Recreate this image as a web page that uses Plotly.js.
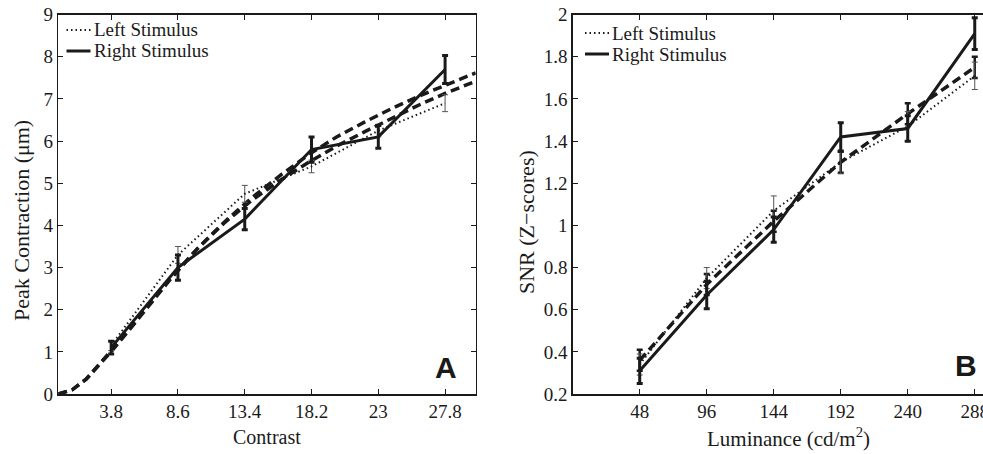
<!DOCTYPE html>
<html>
<head>
<meta charset="utf-8">
<script src="https://cdn.plot.ly/plotly-3.0.1.min.js"></script>
<style>
html,body{margin:0;padding:0;width:983px;height:454px;overflow:hidden;background:#fff;}
#chart{width:992px;height:454px;}
</style>
</head>
<body>
<div id="chart"></div>
<script>
// ---- Panel A data ----
const contrast = [3.8, 8.6, 13.4, 18.2, 23, 27.8];
const contrastTickText = ["3.8", "8.6", "13.4", "18.2", "23", "27.8"];
const contrastLeft = [1.15, 3.3, 4.75, 5.4, 6.25, 6.9];
const contrastLeftErr = [0.12, 0.2, 0.2, 0.15, 0.15, 0.2];
const contrastRight = [1.1, 3.0, 4.15, 5.8, 6.1, 7.7];
const contrastRightErr = [0.15, 0.3, 0.25, 0.3, 0.27, 0.33];
const fitX = [0, 1, 2, 3, 4, 5, 6, 8, 10, 12, 14, 16, 18, 20, 22, 24, 26, 28, 30];
const fitRightY = [0, 0.1, 0.35, 0.7, 1.08, 1.48, 1.88, 2.7, 3.45, 4.1, 4.68, 5.2, 5.68, 6.1, 6.45, 6.78, 7.08, 7.36, 7.62];
const fitLeftY  = [0, 0.1, 0.35, 0.72, 1.1, 1.5, 1.9, 2.72, 3.45, 4.08, 4.62, 5.08, 5.5, 5.88, 6.22, 6.55, 6.87, 7.16, 7.42];

// ---- Panel B data ----
const luminance = [48, 96, 144, 192, 240, 288];
const luminanceTickText = ["48", "96", "144", "192", "240", "288"];
const lumLeft = [0.34, 0.75, 1.07, 1.30, 1.47, 1.71];
const lumLeftErr = [0.05, 0.05, 0.07, 0.055, 0.07, 0.065];
const lumRight = [0.31, 0.67, 0.98, 1.42, 1.46, 1.91];
const lumRightErr = [0.06, 0.065, 0.06, 0.067, 0.06, 0.075];
const lumDashed = [0.36, 0.72, 1.02, 1.30, 1.53, 1.75];
const lumDashedErr = [0.05, 0.05, 0.05, 0.05, 0.05, 0.05];

const seriesNames = ["Left Stimulus", "Right Stimulus"];
const axisTitles = {
  ax: "Contrast", ay: "Peak Contraction (μm)",
  bx: "Luminance (cd/m<sup>2</sup>)", by: "SNR (Z−scores)"
};

const ink = "#1a1a1a";
const serif = "Liberation Serif, Times New Roman, serif";
const sans = "Liberation Sans, Arial, sans-serif";

const W = 992, H = 454;
const px = v => v / W;
const py = v => (H - v) / H;

const dotted = {color: ink, width: 2, dash: "1.5px,3px"};
const solid = {color: ink, width: 3};
const dashed = {color: ink, width: 3.5, dash: "9px,5px"};

const traces = [
  // Panel A
  {x: fitX, y: fitLeftY, xaxis: "x", yaxis: "y", mode: "lines", line: dashed},
  {x: fitX, y: fitRightY, xaxis: "x", yaxis: "y", mode: "lines", line: dashed},
  {x: contrast, y: contrastLeft, xaxis: "x", yaxis: "y", mode: "lines", name: seriesNames[0], line: dotted,
   error_y: {type: "data", array: contrastLeftErr, visible: true, color: "#555", thickness: 1, width: 3}},
  {x: contrast, y: contrastRight, xaxis: "x", yaxis: "y", mode: "lines", name: seriesNames[1], line: solid,
   error_y: {type: "data", array: contrastRightErr, visible: true, color: ink, thickness: 3, width: 3}},
  // Panel B
  {x: luminance, y: lumDashed, xaxis: "x2", yaxis: "y2", mode: "lines", line: dashed,
   error_y: {type: "data", array: lumDashedErr, visible: true, color: ink, thickness: 2.5, width: 3}},
  {x: luminance, y: lumLeft, xaxis: "x2", yaxis: "y2", mode: "lines", name: seriesNames[0], line: dotted,
   error_y: {type: "data", array: lumLeftErr, visible: true, color: "#555", thickness: 1, width: 3}},
  {x: luminance, y: lumRight, xaxis: "x2", yaxis: "y2", mode: "lines", name: seriesNames[1], line: solid,
   error_y: {type: "data", array: lumRightErr, visible: true, color: ink, thickness: 3, width: 3}}
];

const axisCommon = {
  showgrid: false, zeroline: false, showline: true, linecolor: ink, linewidth: 1.5,
  mirror: "ticks", ticks: "inside", ticklen: 5, tickwidth: 1, tickcolor: ink,
  tickfont: {family: serif, size: 19, color: ink}
};

function label(text, x, y, size, angle) {
  return {text: text, xref: "paper", yref: "paper", x: px(x), y: py(y),
    xanchor: "center", yanchor: "middle", showarrow: false, textangle: angle || 0,
    font: {family: serif, size: size, color: ink}};
}

// manual legend (text + sample lines) in paper coordinates
function legendItems(x0, rows) {
  const ann = [], shp = [];
  rows.forEach((yy, i) => {
    shp.push({type: "line", xref: "paper", yref: "paper",
      x0: px(x0), x1: px(x0 + 24), y0: py(yy), y1: py(yy),
      line: {color: ink, width: i === 0 ? 2 : 3, dash: i === 0 ? "1.5px,3px" : "solid"}});
    ann.push({text: seriesNames[i], xref: "paper", yref: "paper", x: px(x0 + 25), y: py(yy),
      xanchor: "left", yanchor: "middle", showarrow: false,
      font: {family: serif, size: 19, color: ink}});
  });
  return {ann, shp};
}
const legA = legendItems(66.5, [30, 51]);
const legB = legendItems(585, [33, 54]);

const layout = {
  width: W, height: H,
  margin: {l: 0, r: 0, t: 0, b: 0},
  paper_bgcolor: "#fff", plot_bgcolor: "#fff",
  font: {family: serif, color: ink},
  showlegend: false,
  xaxis: Object.assign({}, axisCommon, {
    domain: [px(58.3), px(475.7)], range: [0, 30], anchor: "y",
    tickmode: "array", tickvals: contrast, ticktext: contrastTickText
  }),
  yaxis: Object.assign({}, axisCommon, {
    domain: [py(394), py(14.7)], range: [0, 9], anchor: "x", dtick: 1
  }),
  xaxis2: Object.assign({}, axisCommon, {
    domain: [px(572.7), px(991.5)], range: [0, 300], anchor: "y2",
    tickmode: "array", tickvals: luminance, ticktext: luminanceTickText
  }),
  yaxis2: Object.assign({}, axisCommon, {
    domain: [py(394), py(14.7)], range: [0.2, 2], anchor: "x2", dtick: 0.2,
    tickformat: "~g"
  }),
  shapes: legA.shp.concat(legB.shp),
  annotations: legA.ann.concat(legB.ann).concat([
    label(axisTitles.ax, 267, 437, 20),
    label(axisTitles.ay, 21, 221, 22, -90),
    label(axisTitles.bx, 788, 437, 21),
    label(axisTitles.by, 526, 222, 22, -90),
    {text: "<b>A</b>", xref: "paper", yref: "paper", x: px(446), y: py(367),
     xanchor: "center", yanchor: "middle", showarrow: false,
     font: {family: sans, size: 30, color: ink}},
    {text: "<b>B</b>", xref: "paper", yref: "paper", x: px(966), y: py(365),
     xanchor: "center", yanchor: "middle", showarrow: false,
     font: {family: sans, size: 30, color: ink}}
  ])
};

Plotly.newPlot("chart", traces, layout, {staticPlot: true, displayModeBar: false});
</script>
</body>
</html>
